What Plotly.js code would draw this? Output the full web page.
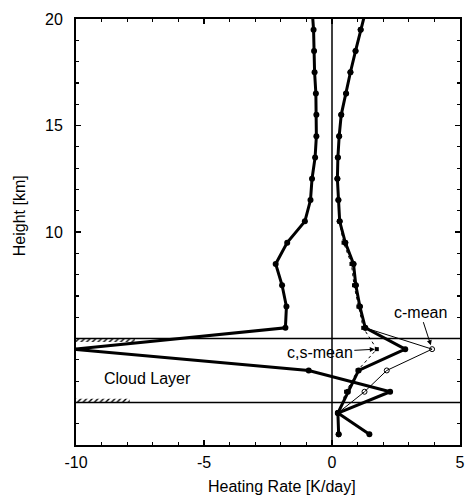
<!DOCTYPE html>
<html>
<head>
<meta charset="utf-8">
<script src="https://cdn.plot.ly/plotly-3.0.1.min.js"></script>
<style>html,body{margin:0;padding:0;background:#fff;}#chart{width:466px;height:496px;}</style>
</head>
<body>
<div id="chart"></div>
<script>
// Heights of the model levels [km]
var heights = [20.5, 19.5, 18.5, 17.5, 16.5, 15.5, 14.5, 13.5, 12.5, 11.5, 10.5,
               9.5, 8.5, 7.5, 6.5, 5.5, 4.5, 3.5, 2.5, 1.5, 0.5];
// Thick profile reaching strong cloud-top cooling
var profileA = [-0.78, -0.72, -0.70, -0.68, -0.63, -0.61, -0.61, -0.66, -0.78, -0.84, -1.06,
                -1.75, -2.20, -1.95, -1.78, -1.82, -10.1, -0.91, 2.27, 0.23, 1.46];
// Thick profile with positive heating
var profileB = [1.34, 1.12, 0.92, 0.72, 0.55, 0.36, 0.28, 0.23, 0.21, 0.25, 0.30,
                0.52, 0.84, 0.93, 1.09, 1.30, 2.86, 1.04, 0.62, 0.23, 0.26];
// c-mean (thin line, open circles)
var cMean = [1.34, 1.12, 0.92, 0.72, 0.55, 0.36, 0.28, 0.23, 0.21, 0.25, 0.30,
             0.52, 0.84, 0.93, 1.09, 1.30, 3.91, 2.14, 1.27, 0.23, 0.26];
// c,s-mean (dotted line, small markers)
var csMean = [1.34, 1.12, 0.92, 0.72, 0.55, 0.36, 0.28, 0.23, 0.21, 0.25, 0.29,
              0.45, 0.76, 0.86, 1.03, 1.22, 1.75, 1.00, 0.55, 0.23, 0.26];
// Cloud layer bounds [km]
var cloudTop = 5;
var cloudBottom = 2;
// Axis ranges and tick labels
var xRange = [-10, 5];
var yRange = [0, 20];
var xTickVals = [-10, -5, 0, 5];
var xTickText = ['-10', '-5', '0', '5'];
var yTickVals = [10, 15, 20];
var yTickText = ['10', '15', '20'];

var FONT = 'Liberation Sans, Arial, Helvetica, sans-serif';

var hatchW = 2.3, hatchH = 0.17;
var traces = [
  { // hatch below cloud top
    x: [xRange[0], xRange[0] + hatchW, xRange[0] + hatchW, xRange[0], xRange[0]],
    y: [cloudTop, cloudTop, cloudTop - hatchH, cloudTop - hatchH, cloudTop],
    type: 'scatter', mode: 'lines', fill: 'toself', fillcolor: 'rgba(0,0,0,0)',
    fillpattern: {shape: '/', size: 4, solidity: 0.35, fgcolor: '#000', bgcolor: 'rgba(0,0,0,0)'},
    line: {width: 0}, hoverinfo: 'skip', showlegend: false
  },
  { // hatch above cloud bottom
    x: [xRange[0], xRange[0] + hatchW - 0.2, xRange[0] + hatchW - 0.2, xRange[0], xRange[0]],
    y: [cloudBottom, cloudBottom, cloudBottom + hatchH, cloudBottom + hatchH, cloudBottom],
    type: 'scatter', mode: 'lines', fill: 'toself', fillcolor: 'rgba(0,0,0,0)',
    fillpattern: {shape: '/', size: 4, solidity: 0.35, fgcolor: '#000', bgcolor: 'rgba(0,0,0,0)'},
    line: {width: 0}, hoverinfo: 'skip', showlegend: false
  },
  {
    x: csMean, y: heights, type: 'scatter', mode: 'lines+markers', name: 'c,s-mean',
    line: {color: '#000', width: 1, dash: 'dot'},
    marker: {symbol: 'square', size: 4, color: '#000'}
  },
  {
    x: cMean, y: heights, type: 'scatter', mode: 'lines+markers', name: 'c-mean',
    line: {color: '#000', width: 1},
    marker: {symbol: 'circle-open', size: 5, color: '#000', line: {width: 1, color: '#000'}}
  },
  {
    x: profileB, y: heights, type: 'scatter', mode: 'lines+markers', name: 'B',
    line: {color: '#000', width: 3},
    marker: {symbol: 'circle', size: 6, color: '#000'}
  },
  {
    x: profileA, y: heights, type: 'scatter', mode: 'lines+markers', name: 'A',
    line: {color: '#000', width: 3},
    marker: {symbol: 'circle', size: 6, color: '#000'}
  }
];

var iPeak = heights.indexOf(4.5);

var layout = {
  width: 466, height: 496,
  margin: {l: 76, r: 6, t: 19, b: 51},
  paper_bgcolor: '#fff', plot_bgcolor: '#fff',
  showlegend: false,
  font: {family: FONT, size: 16, color: '#000'},
  xaxis: {
    range: xRange, tickmode: 'array', tickvals: xTickVals, ticktext: xTickText,
    ticks: 'inside', ticklen: 5, tickwidth: 1.5, tickcolor: '#000',
    minor: {tickmode: 'linear', tick0: 0, dtick: 1, ticks: 'inside', ticklen: 3, tickwidth: 1.2, tickcolor: '#000', showgrid: false},
    showline: true, linewidth: 2, linecolor: '#000', mirror: 'allticks',
    showgrid: false, zeroline: false, ticklabelstandoff: 2,
    tickfont: {family: FONT, size: 16, color: '#000'}
  },
  yaxis: {
    range: yRange, tickmode: 'array', tickvals: yTickVals, ticktext: yTickText,
    ticks: 'inside', ticklen: 5, tickwidth: 1.5, tickcolor: '#000',
    minor: {tickmode: 'linear', tick0: 0, dtick: 1, ticks: 'inside', ticklen: 3, tickwidth: 1.2, tickcolor: '#000', showgrid: false},
    showline: true, linewidth: 2, linecolor: '#000', mirror: 'allticks',
    showgrid: false, zeroline: false, ticklabelstandoff: 8,
    tickfont: {family: FONT, size: 16, color: '#000'}
  },
  shapes: [
    {type: 'line', xref: 'x', yref: 'y', x0: 0, x1: 0, y0: yRange[0], y1: yRange[1], line: {color: '#000', width: 1.5}, layer: 'below'},
    {type: 'line', xref: 'paper', yref: 'y', x0: 0, x1: 1, y0: cloudTop, y1: cloudTop, line: {color: '#000', width: 1.5}, layer: 'below'},
    {type: 'line', xref: 'paper', yref: 'y', x0: 0, x1: 1, y0: cloudBottom, y1: cloudBottom, line: {color: '#000', width: 1.5}, layer: 'below'}
  ],
  annotations: [
    {text: 'Heating Rate [K/day]', xref: 'paper', yref: 'paper', x: 0.536, y: 0, yshift: -41,
     xanchor: 'center', yanchor: 'middle', showarrow: false, font: {family: FONT, size: 16, color: '#000'}},
    {text: 'Height [km]', xref: 'paper', yref: 'paper', x: 0, xshift: -57, y: 0.537, textangle: -90,
     xanchor: 'center', yanchor: 'middle', showarrow: false, font: {family: FONT, size: 16, color: '#000'}},
    {text: 'Cloud Layer', xref: 'x', yref: 'y', x: -7.2, y: 3.1, showarrow: false,
     font: {family: FONT, size: 16, color: '#000'}},
    {text: 'c-mean', xref: 'x', yref: 'y', x: cMean[iPeak], y: heights[iPeak],
     ax: -12, ay: -37, showarrow: true, arrowhead: 2, arrowsize: 1, arrowwidth: 1, arrowcolor: '#000',
     standoff: 4, font: {family: FONT, size: 16, color: '#000'}},
    {text: 'c,s-mean', xref: 'x', yref: 'y', x: csMean[iPeak], y: heights[iPeak],
     ax: -57, ay: 3, showarrow: true, arrowhead: 2, arrowsize: 1, arrowwidth: 1, arrowcolor: '#000',
     standoff: 2, font: {family: FONT, size: 16, color: '#000'}}
  ]
};

Plotly.newPlot('chart', traces, layout, {staticPlot: true, displayModeBar: false});
</script>
</body>
</html>
